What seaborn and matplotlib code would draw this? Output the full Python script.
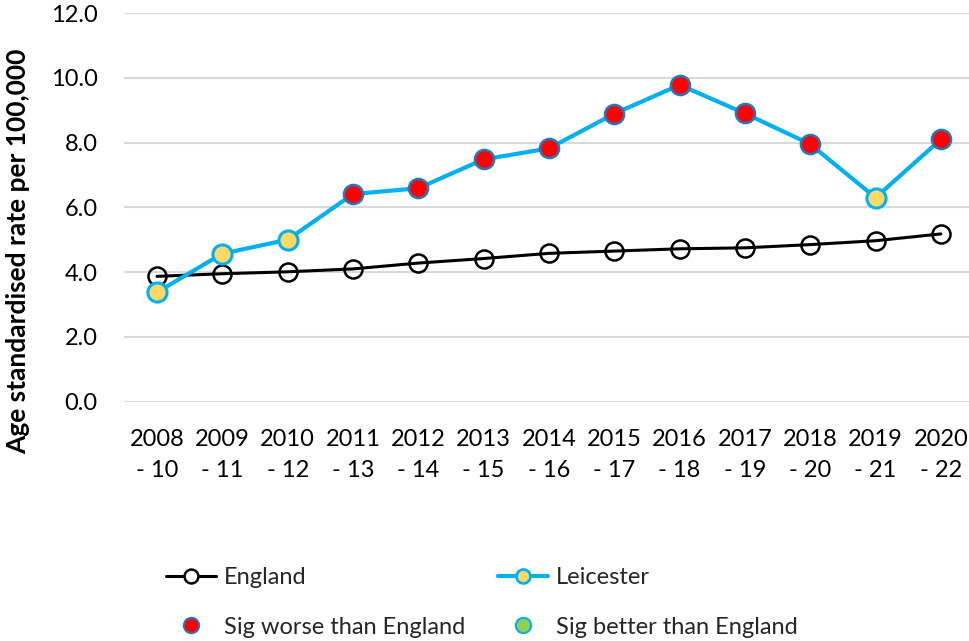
import matplotlib
matplotlib.use("Agg")
import matplotlib.pyplot as plt
from matplotlib.lines import Line2D
import seaborn as sns
import pandas as pd

# ---- data ----
periods = ["2008\n- 10", "2009\n- 11", "2010\n- 12", "2011\n- 13", "2012\n- 14",
           "2013\n- 15", "2014\n- 16", "2015\n- 17", "2016\n- 18", "2017\n- 19",
           "2018\n- 20", "2019\n- 21", "2020\n- 22"]
england = [3.87, 3.95, 4.01, 4.10, 4.28, 4.42, 4.58, 4.65, 4.72, 4.75, 4.85, 4.97, 5.18]
leicester = [3.38, 4.57, 5.00, 6.41, 6.59, 7.48, 7.82, 8.89, 9.78, 8.90, 7.95, 6.30, 8.10]
significance = ["similar", "similar", "similar", "worse", "worse", "worse", "worse",
                "worse", "worse", "worse", "worse", "similar", "worse"]
y_ticks = [0, 2, 4, 6, 8, 10, 12]

# ---- style ----
sns.set_theme(style="white")
plt.rcParams['font.family'] = ['Lato', 'DejaVu Sans']

BLUE = "#00B0F0"
RED = "#FF0000"
RED_EDGE = "#2E75B6"
YELLOW = "#FFD966"
GREEN = "#92D050"
FS = 17

df = pd.DataFrame({"x": range(len(periods)), "England": england,
                   "Leicester": leicester, "sig": significance})

fig = plt.figure(figsize=(9.69, 6.41), dpi=100)
ax = fig.add_axes([124 / 969, 1 - 401.7 / 641, 1 - 124 / 969, (401.7 - 13) / 641])

sns.lineplot(data=df, x="x", y="England", ax=ax, color="black", linewidth=2.2,
             marker="o", markersize=13, markerfacecolor="none",
             markeredgecolor="black", markeredgewidth=1.8, zorder=3)
sns.lineplot(data=df, x="x", y="Leicester", ax=ax, color=BLUE, linewidth=3.0,
             zorder=4)
worse = df[df["sig"] == "worse"]
similar = df[df["sig"] == "similar"]
sns.scatterplot(data=worse, x="x", y="Leicester", ax=ax, color=RED, s=190,
                edgecolor=RED_EDGE, linewidth=1.8, zorder=5)
sns.scatterplot(data=similar, x="x", y="Leicester", ax=ax, color=YELLOW, s=190,
                edgecolor=BLUE, linewidth=2.2, zorder=5)

ax.set_xlim(-0.505, 12.43)
ax.set_ylim(0, 12)
ax.set_yticks(y_ticks)
ax.set_yticklabels([f"{v:.1f}" for v in y_ticks], fontsize=FS)
ax.set_xticks(range(len(periods)))
ax.set_xticklabels(periods, fontsize=FS, linespacing=1.55)
ax.tick_params(axis="both", length=0, colors="black")
ax.tick_params(axis="y", pad=19)
ax.tick_params(axis="x", pad=20)
ax.grid(axis="y", color="#D9D9D9", linewidth=1.5)
ax.set_axisbelow(True)
for s in ax.spines.values():
    s.set_visible(False)
ax.set_xlabel("")
ax.set_ylabel("Age standardised rate per 100,000", fontsize=19, fontweight="bold",
              color="black")
ax.yaxis.set_label_coords((30 - 124) / 845, (401.7 - 251) / 388.7)

handles = [
    Line2D([], [], color="black", linewidth=2.2, marker="o", markersize=10,
           markerfacecolor="white", markeredgecolor="black", markeredgewidth=1.8),
    Line2D([], [], linestyle="none", marker="o", markersize=11,
           markerfacecolor=RED, markeredgecolor=RED_EDGE, markeredgewidth=1.5),
    Line2D([], [], color=BLUE, linewidth=3.0, marker="o", markersize=10,
           markerfacecolor=YELLOW, markeredgecolor=BLUE, markeredgewidth=2),
    Line2D([], [], linestyle="none", marker="o", markersize=11,
           markerfacecolor=GREEN, markeredgecolor=BLUE, markeredgewidth=1.5),
]
labels = ["England", "Sig worse than England", "Leicester", "Sig better than England"]
fig.legend(handles, labels, ncol=2, frameon=False, fontsize=FS,
           loc="upper left", bbox_to_anchor=(145 / 969, 1 - 546 / 641),
           handlelength=2.1, handletextpad=0.35, columnspacing=1.4,
           labelspacing=1.2)

fig.savefig("out.png", dpi=100)
